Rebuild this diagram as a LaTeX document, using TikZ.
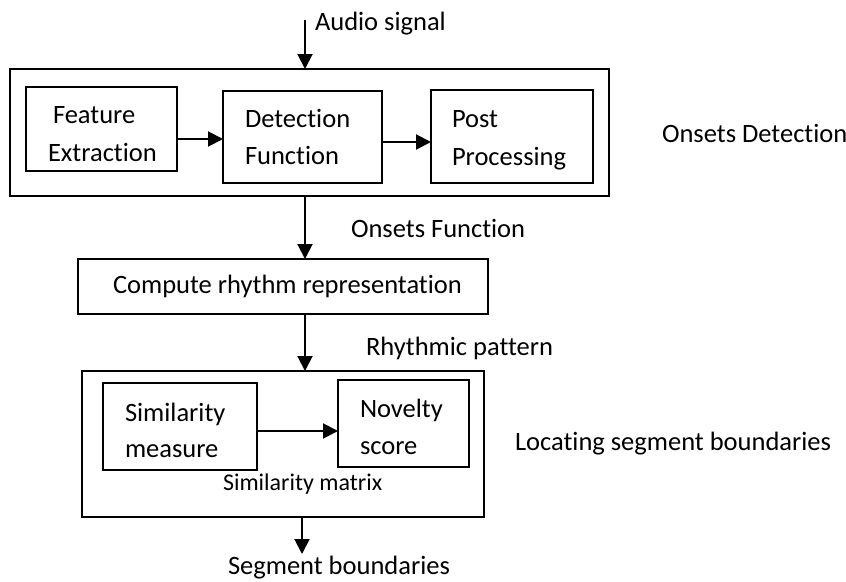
\documentclass[tikz,border=0pt]{standalone}
\usepackage{fontspec}
\setmainfont{Carlito}[Ligatures=NoCommon]
\usetikzlibrary{arrows.meta}

\begin{document}
\begin{tikzpicture}[x=1pt,y=-1pt,
  blk/.style={draw=black,line width=1.4pt,rectangle,inner sep=0pt,outer sep=0pt},
  lbl/.style={anchor=base west,inner sep=0pt,outer sep=0pt,font=\fontsize{26.5}{30}\selectfont},
  small/.style={anchor=base west,inner sep=0pt,outer sep=0pt,font=\fontsize{24}{28}\selectfont},
  arr/.style={line width=2pt,-{Triangle[width=15pt,length=15pt]}}]

  % canvas
  \path[fill=white] (0,0) rectangle (846,581);
  \useasboundingbox (0,0) rectangle (846,581);

  % onset detection stage
  \node[blk,minimum width=599pt,minimum height=127pt] (od) at (309.5,132.5) {};
  \node[blk,minimum width=151pt,minimum height=84pt] (fe) at (101.5,129) {};
  \node[blk,minimum width=159pt,minimum height=92pt] (df) at (302.5,137) {};
  \node[blk,minimum width=162pt,minimum height=93pt] (pp) at (512,136.5) {};

  % rhythm representation
  \node[blk,minimum width=410pt,minimum height=55pt] (crr) at (283,286.5) {};

  % segmentation stage
  \node[blk,minimum width=402pt,minimum height=146pt] (seg) at (283,444) {};
  \node[blk,minimum width=154pt,minimum height=87pt] (sm) at (180,426.5) {};
  \node[blk,minimum width=131pt,minimum height=87pt] (ns) at (403.5,423.5) {};

  % labels
  \node[lbl] (taudio) at (315,30) {Audio signal};
  \node[lbl] (tfe1) at (53,123) {Feature};
  \node[lbl] (tfe2) at (48,161) {Extraction};
  \node[lbl] (tdf1) at (245,127) {Detection};
  \node[lbl] (tdf2) at (245,164) {Function};
  \node[lbl] (tpp1) at (452,127) {Post};
  \node[lbl] (tpp2) at (452,165) {Processing};
  \node[lbl] (tod) at (662,142) {Onsets Detection};
  \node[lbl] (tof) at (351,237) {Onsets Function};
  \node[lbl] (tcrr) at (113,293) {Compute rhythm representation};
  \node[lbl] (trp) at (366,355) {Rhythmic pattern};
  \node[lbl] (tsm1) at (125,421) {Similarity};
  \node[lbl] (tsm2) at (125,457) {measure};
  \node[lbl] (tns1) at (360,417) {Novelty};
  \node[lbl] (tns2) at (360,454) {score};
  \node[small] (tmat) at (223,490) {Similarity matrix};
  \node[lbl] (tloc) at (515,450) {Locating segment boundaries};
  \node[lbl] (tsb) at (228,574) {Segment boundaries};

  % connector anchors
  \coordinate (ain) at (305,20);
  \coordinate (sout) at (302,554);
  \coordinate (y1) at (0,139);
  \coordinate (y2) at (0,142);
  \coordinate (y3) at (0,431);
  \coordinate (xa) at (305,0);
  \coordinate (xb) at (302,0);

  % connectors
  \draw[arr] (ain) -- (ain |- od.north);
  \draw[arr] (fe.east |- y1) -- (df.west |- y1);
  \draw[arr] (df.east |- y2) -- (pp.west |- y2);
  \draw[arr] (xa |- od.south) -- (xa |- crr.north);
  \draw[arr] (xa |- crr.south) -- (xa |- seg.north);
  \draw[arr] (sm.east |- y3) -- (ns.west |- y3);
  \draw[arr] (xb |- seg.south) -- (sout);
\end{tikzpicture}
\end{document}
